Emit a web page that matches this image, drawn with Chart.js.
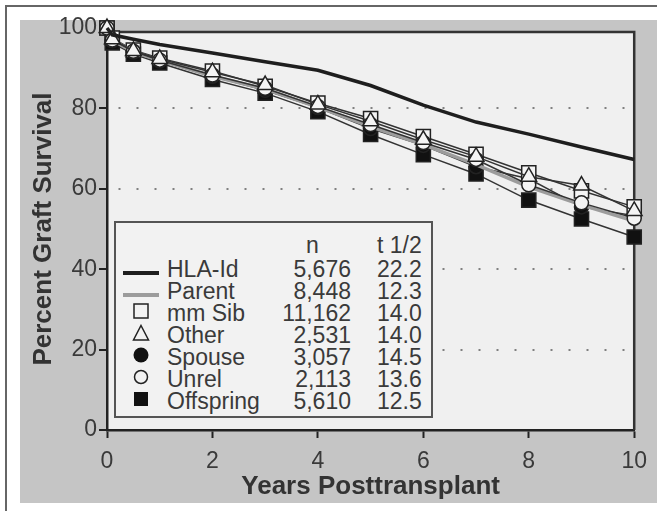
<!DOCTYPE html>
<html>
<head>
<meta charset="utf-8">
<title>Percent Graft Survival</title>
<script src="https://cdn.jsdelivr.net/npm/chart.js@4.4.1/dist/chart.umd.min.js"></script>
<style>
  html, body { margin: 0; padding: 0; background: #fff; }
  #wrap { position: relative; width: 657px; height: 511px; overflow: hidden; }
  #chart { position: absolute; left: 0; top: 0; }
  #legendLayer { position: absolute; left: 0; top: 0; width: 657px; height: 511px; }
  #legendBox {
    position: absolute; left: 114px; top: 221px; width: 319px; height: 197px;
    box-sizing: border-box; border: 2px solid #555; background: #f2f2f2;
  }
  .cell {
    position: absolute; height: 22px; line-height: 22px; white-space: nowrap;
    font: 23px "Liberation Sans", Arial, sans-serif; color: #3a3a3a;
  }
  .num { width: 100px; text-align: right; }
  .sym { position: absolute; }
</style>
</head>
<body>
<div id="wrap">
  <canvas id="chart" width="657" height="511"></canvas>
  <div id="legendLayer"><div id="legendBox"></div></div>
</div>
<script>
// years after transplant at which survival was read
const years = [0, 0.1, 0.5, 1, 2, 3, 4, 5, 6, 7, 8, 9, 10];

const hlaId = [100, 98.3, 97.2, 95.9, 93.8, 91.6, 89.5, 85.7, 80.8, 76.6, 73.6, 70.4, 67.3];
const parent = [100, 97, 94, 92, 88, 84.8, 80.3, 75.5, 71, 66, 60.5, 56, 52];
const mmSib = [100, 97.5, 94.5, 92.5, 89.3, 85.5, 81.3, 77.5, 73, 68.6, 64, 59.5, 55.5];
const other = [100, 97.2, 94.3, 92.3, 89, 85.8, 81, 76.8, 72.2, 68, 63, 60.8, 54.5];
const spouse = [100, 96.8, 94, 91.8, 88, 84.5, 80.2, 75, 70.8, 65.5, 62.5, 55.5, 53.3];
const unrel = [100, 97, 94.2, 92, 88.3, 85, 80.5, 76, 71.5, 67.3, 61, 56.5, 52.7];
const offspring = [100, 96.3, 93.5, 91.3, 87.2, 83.8, 79.2, 73.5, 68.5, 63.7, 57.2, 52.5, 48];

const yTicks = [0, 20, 40, 60, 80, 100];
const xTicks = [0, 2, 4, 6, 8, 10];

// legend table
const legendNames = ["HLA-Id", "Parent", "mm Sib", "Other", "Spouse", "Unrel", "Offspring"];
const legendN = ["5,676", "8,448", "11,162", "2,531", "3,057", "2,113", "5,610"];
const legendHalfLife = ["22.2", "12.3", "14.0", "14.0", "14.5", "13.6", "12.5"];

const FONT = '"Liberation Sans", Arial, sans-serif';
const INK = "#3a3a3a";

function toPoints(values) {
  return years.map((yr, i) => ({ x: yr, y: values[i] }));
}

function markerSeries(label, values, style, radius, fill, order) {
  return {
    label: label,
    data: toPoints(values),
    borderColor: "#333",
    borderWidth: 1.5,
    pointStyle: style,
    pointRadius: radius,
    pointBackgroundColor: fill,
    pointBorderColor: "#222",
    pointBorderWidth: 1.5,
    clip: false,
    order: order,
  };
}

// page backdrop, grey panel and the light plot field
const backdrop = {
  id: "backdrop",
  beforeDraw(chart) {
    const { ctx, chartArea: a, scales } = chart;
    const top = scales.y.getPixelForValue(99);
    ctx.save();
    ctx.fillStyle = "#fff";
    ctx.fillRect(0, 0, chart.width, chart.height);
    ctx.strokeStyle = "#666";
    ctx.lineWidth = 2;
    ctx.beginPath();
    ctx.moveTo(6, chart.height);
    ctx.lineTo(6, 6);
    ctx.lineTo(chart.width, 6);
    ctx.stroke();
    ctx.fillStyle = "#c5c5c5";
    ctx.fillRect(20, 20, chart.width - 20, 483);
    ctx.fillStyle = "#f0f0f0";
    ctx.fillRect(a.left, top, a.right - a.left, a.bottom - top);
    ctx.restore();
  },
  beforeDatasetsDraw(chart) {
    const { ctx, chartArea: a, scales } = chart;
    const top = scales.y.getPixelForValue(99);
    ctx.save();
    ctx.strokeStyle = "#333";
    ctx.lineWidth = 2.5;
    ctx.beginPath();
    ctx.moveTo(a.left, top);
    ctx.lineTo(a.right, top);
    ctx.lineTo(a.right, a.bottom);
    ctx.stroke();
    ctx.restore();
  },
};

Chart.defaults.font.family = FONT;
Chart.defaults.color = INK;

new Chart(document.getElementById("chart"), {
  type: "line",
  data: {
    datasets: [
      { label: "HLA-Id", data: toPoints(hlaId), borderColor: "#1e1e1e", borderWidth: 3.5, pointRadius: 0, clip: false, order: 0 },
      markerSeries("Other", other, "triangle", 9, "#f4f4f4", 1),
      markerSeries("Unrel", unrel, "circle", 7, "#f4f4f4", 2),
      { label: "Parent", data: toPoints(parent), borderColor: "#9c9c9c", borderWidth: 3.5, pointRadius: 0, clip: false, order: 3 },
      markerSeries("mm Sib", mmSib, "rect", 10, "#f4f4f4", 4),
      markerSeries("Spouse", spouse, "circle", 7, "#111", 5),
      markerSeries("Offspring", offspring, "rect", 10, "#111", 6),
    ],
  },
  options: {
    responsive: false,
    animation: false,
    events: [],
    layout: { padding: { left: 0, top: 28, right: 16, bottom: 0 } },
    plugins: { legend: { display: false }, tooltip: { enabled: false } },
    scales: {
      x: {
        type: "linear",
        min: 0,
        max: 10,
        afterFit(scale) { scale.height = 81; },
        afterBuildTicks(scale) { scale.ticks = xTicks.map((v) => ({ value: v })); },
        ticks: { font: { size: 23 }, color: INK, padding: 10, maxRotation: 0 },
        grid: { drawOnChartArea: false, tickLength: 8, tickColor: "#222", tickWidth: 2 },
        border: { color: "#222", width: 2.5 },
        title: { display: true, text: "Years Posttransplant", font: { size: 26, weight: "bold" }, color: "#333", padding: { top: 0, bottom: 9 } },
      },
      y: {
        min: 0,
        max: 100,
        afterFit(scale) { scale.width = 107; },
        afterBuildTicks(scale) { scale.ticks = yTicks.map((v) => ({ value: v })); },
        ticks: { font: { size: 23 }, color: INK, padding: 2 },
        grid: {
          color: (c) => (c.tick && (c.tick.value === 0 || c.tick.value === 100) ? "rgba(0,0,0,0)" : "#808080"),
          lineWidth: 2,
          tickLength: 8,
          tickColor: "#222",
          tickWidth: 2,
          tickBorderDash: [],
        },
        border: { color: "#222", width: 2.5, dash: [2, 16], dashOffset: -10 },
        title: { display: true, text: "Percent Graft Survival", font: { size: 26, weight: "bold" }, color: "#333", padding: { top: 28, bottom: 0 } },
      },
    },
  },
  plugins: [backdrop],
});

// legend drawn as html text over the plot
const symbols = [
  '<svg width="36" height="8"><rect x="0" y="2" width="36" height="4" fill="#1e1e1e"/></svg>',
  '<svg width="36" height="8"><rect x="0" y="2" width="36" height="4" fill="#9c9c9c"/></svg>',
  '<svg width="18" height="18"><rect x="2" y="2" width="14" height="14" fill="none" stroke="#222" stroke-width="1.5"/></svg>',
  '<svg width="18" height="18"><polygon points="9,1.5 16.5,16 1.5,16" fill="none" stroke="#222" stroke-width="1.5"/></svg>',
  '<svg width="18" height="18"><circle cx="9" cy="9" r="7.5" fill="#111"/></svg>',
  '<svg width="18" height="18"><circle cx="9" cy="9" r="6.5" fill="none" stroke="#222" stroke-width="1.5"/></svg>',
  '<svg width="18" height="18"><rect x="2" y="2" width="14" height="14" fill="#111"/></svg>',
];

function addCell(layer, cls, left, center, text) {
  const el = document.createElement("div");
  el.className = cls;
  el.style.left = left + "px";
  el.style.top = center - 11 + "px";
  el.textContent = text;
  layer.appendChild(el);
}

function buildLegend() {
  const layer = document.getElementById("legendLayer");
  addCell(layer, "cell", 306, 243, "n");
  addCell(layer, "cell", 377, 243, "t 1/2");

  legendNames.forEach((name, i) => {
    const center = 267 + 22 * i;
    const sym = document.createElement("div");
    sym.className = "sym";
    sym.innerHTML = symbols[i];
    const svg = sym.firstChild;
    const w = +svg.getAttribute("width");
    const h = +svg.getAttribute("height");
    sym.style.left = 141 - w / 2 + "px";
    sym.style.top = center - h / 2 + "px";
    sym.style.width = w + "px";
    sym.style.height = h + "px";
    layer.appendChild(sym);

    addCell(layer, "cell", 167, center, name);
    addCell(layer, "cell num", 251, center, legendN[i]);
    addCell(layer, "cell", 377, center, legendHalfLife[i]);
  });
}

buildLegend();
</script>
</body>
</html>
